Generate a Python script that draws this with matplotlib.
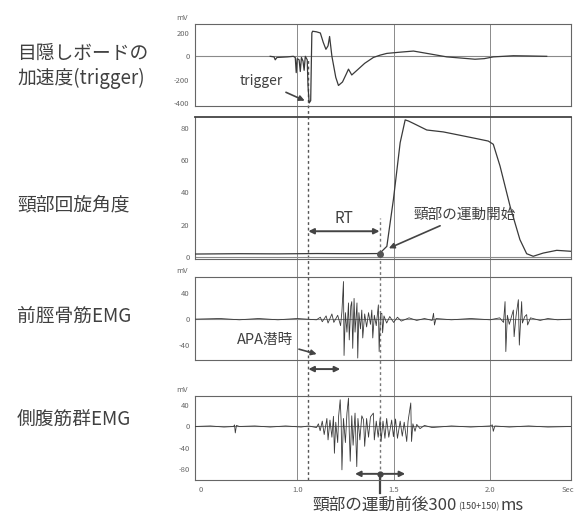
import matplotlib
matplotlib.use("Agg")
import matplotlib.pyplot as plt
from matplotlib.offsetbox import TextArea, HPacker, AnnotationBbox

plt.rcParams["font.family"] = ["Noto Sans CJK JP", "DejaVu Sans"]

# --- data (time in s) ---
trigger_t = 1.058
onset_t = 1.427

acc_t = [0.86, 0.88, 0.886, 0.895, 0.95, 0.98, 0.99, 0.995, 1.0, 1.01, 1.016, 1.022, 1.03, 1.036,
         1.042, 1.052, 1.056, 1.062, 1.07, 1.076, 1.08, 1.10, 1.12, 1.135, 1.149, 1.16, 1.168, 1.18,
         1.20, 1.214, 1.235, 1.255, 1.266, 1.283, 1.31, 1.35, 1.395, 1.43, 1.465, 1.53, 1.603, 1.69,
         1.776, 1.85, 1.922, 1.97, 2.017, 2.07, 2.121, 2.2, 2.294]
acc_v = [0, -5, -30, -10, -5, 0, -10, -140, -20, -30, -130, -10, -40, -120, 0, -30, -250, -400, -380,
         200, 215, 210, 200, 120, 60, 90, 170, 0, -180, -250, -220, -150, -110, -160, -120, -60, -10,
         10, 25, 35, 45, 20, -5, -15, -25, -20, -5, 0, 5, 3, 0]

rot_t = [0.47, 0.7, 0.9, 1.1, 1.3, 1.427, 1.465, 1.499, 1.534, 1.560, 1.577, 1.603, 1.672, 1.758,
         1.845, 1.931, 1.991, 2.017, 2.052, 2.104, 2.155, 2.19, 2.224, 2.276, 2.346, 2.42]
rot_v = [1.6, 1.8, 1.7, 1.9, 1.8, 1.9, 6.4, 35.6, 71, 85.2, 84.5, 83, 78.9, 77.7, 75.6, 73.5, 72,
         70, 56.4, 31.4, 10.6, 1.8, 0.2, 2.2, 3.9, 3.3]

ta_t = [0.47, 0.60, 0.70, 0.80, 0.90, 1.00, 1.10, 1.12, 1.13, 1.15, 1.16, 1.18, 1.19, 1.21, 1.225,
        1.232, 1.24, 1.243, 1.25, 1.258, 1.266, 1.27, 1.278, 1.283, 1.288, 1.295, 1.30, 1.31, 1.314,
        1.32, 1.328, 1.335, 1.34, 1.35, 1.36, 1.37, 1.38, 1.387, 1.392, 1.40, 1.41, 1.421, 1.425,
        1.432, 1.439, 1.443, 1.45, 1.464, 1.48, 1.50, 1.52, 1.54, 1.58, 1.62, 1.66, 1.70, 1.707,
        1.712, 1.72, 1.8, 1.9, 2.0, 2.05, 2.07, 2.078, 2.082, 2.09, 2.10, 2.121, 2.125, 2.135,
        2.147, 2.152, 2.164, 2.168, 2.18, 2.19, 2.195, 2.21, 2.26, 2.30, 2.35, 2.42]
ta_v = [0, 1, -1, 1, -1, 1, -1, 3, -4, 5, -6, 8, -5, 6, -10, 12, 58, -56, 10, -20, 25, -32, 20, 27,
        -45, 32, -20, 25, -60, 10, -15, 14, -29, 8, -12, 10, -8, 14, -29, 6, -10, 22, -50, 8, 9, -21,
        5, -6, 4, -5, 3, -3, 2, -2, 1, -2, 9, -9, 1, -1, 1, -1, 2, -5, 27, -50, 6, -8, 14, -27, 5, 30,
        -40, 27, -6, 4, 7, -9, 2, -2, 1, -1, 0]

ob_t = [0.47, 0.55, 0.62, 0.67, 0.675, 0.679, 0.685, 0.70, 0.78, 0.86, 0.94, 1.02, 1.06, 1.10, 1.11,
        1.119, 1.13, 1.14, 1.154, 1.16, 1.17, 1.18, 1.188, 1.193, 1.20, 1.21, 1.215, 1.223, 1.228,
        1.232, 1.24, 1.25, 1.258, 1.266, 1.27, 1.275, 1.283, 1.29, 1.30, 1.309, 1.315, 1.325, 1.335,
        1.344, 1.35, 1.36, 1.37, 1.38, 1.395, 1.40, 1.41, 1.42, 1.43, 1.435, 1.445, 1.455, 1.464,
        1.475, 1.49, 1.499, 1.51, 1.52, 1.534, 1.545, 1.555, 1.568, 1.575, 1.589, 1.593, 1.60, 1.611,
        1.62, 1.637, 1.66, 1.70, 1.80, 1.90, 2.00, 2.012, 2.017, 2.025, 2.10, 2.2, 2.3, 2.42]
ob_v = [0, 1, -1, 0, 3, -12, 2, 0, 1, -1, 1, -1, 1, -2, 5, -8, 10, -15, 15, -25, 12, -20, 19, -50, 8,
        -30, 20, 50, 10, -81, 15, -30, 25, 53, -10, -65, 20, -35, 25, -75, 15, -25, 20, 12.5, -37, 15,
        -20, 18, 25, -25, 10, -20, 15, -28, 10, -22, 15, -20, 12, -19, 14, -22, 10, -18, 8, -28, 10,
        44, -28, 5, -9, 4, -4, 2, -2, 1, -1, 1, 3, -9, 1, -1, 1, -1, 0]

row_labels = ["目隠しボードの\n加速度(trigger)", "頸部回旋角度", "前脛骨筋EMG", "側腹筋群EMG"]
ylims = [(-426, 277), (-1.5, 87), (-63, 65), (-100, 57)]
yticks = [[200, 0, -200, -400], [80, 60, 40, 20, 0], [40, 0, -40], [40, 0, -40, -80]]
ytick_text = [["200", "0", "-200", "-400"], ["80", "60", "40", "20", "0"], ["40", "0", "-40"],
              ["40", "0", "-40", "-80"]]
xticks = [0.5, 1.0, 1.5, 2.0, 2.405]
xtick_text = ["0", "1.0", "1.5", "2.0", "Sec"]
grid_t = [1.0, 1.5, 2.0]
xlim = (0.47, 2.42)

# --- layout (pixel boxes top/bottom of each panel) ---
W, H = 579, 514
left_px, right_px = 195, 571
boxes = [(24, 106), (117, 259), (277, 360), (396, 480)]
label_y = [66, 205, 316, 420]

fig = plt.figure(figsize=(W / 100, H / 100), dpi=100)
fig.patch.set_facecolor("white")

def frac_box(top, bottom):
    return [left_px / W, 1 - bottom / H, (right_px - left_px) / W, (bottom - top) / H]

grid_c = "#8a8a8a"
line_c = "#3a3a3a"
txt_c = "#404040"

# overlay for lines running through every panel
ov = fig.add_axes(frac_box(boxes[0][0], boxes[-1][1]))
ov.set_xlim(xlim)
ov.set_ylim(0, 1)
ov.axis("off")
span = boxes[-1][1] - boxes[0][0]
for g in grid_t:
    ov.axvline(g, color=grid_c, lw=0.7)
ov.axvline(trigger_t, ymin=0, ymax=(boxes[-1][1] - 59) / span, color="#555555", lw=1.0, ls=(0, (2, 2)))
ov.axvline(onset_t, ymin=0, ymax=(boxes[-1][1] - 218) / span, color="#777777", lw=1.0, ls=(0, (2, 2)))

series = [(acc_t, acc_v, 0.9), (rot_t, rot_v, 0.9), (ta_t, ta_v, 0.6), (ob_t, ob_v, 0.6)]
axes = []
for i, (top, bottom) in enumerate(boxes):
    ax = fig.add_axes(frac_box(top, bottom))
    ax.set_facecolor("none")
    ax.set_xlim(xlim)
    ax.set_ylim(ylims[i])
    ax.axhline(0, color=grid_c, lw=0.8, zorder=1)
    t, v, lw = series[i]
    ax.plot(t, v, color=line_c, lw=lw, zorder=3)
    ax.set_yticks(yticks[i])
    ax.set_yticklabels(ytick_text[i])
    ax.tick_params(axis="y", length=0, labelsize=5.5, labelcolor="#666666", pad=4)
    for s in ax.spines.values():
        s.set_color("#666666")
        s.set_linewidth(0.8)
    if i == 3:
        ax.set_xticks(xticks)
        ax.set_xticklabels(xtick_text)
        ax.tick_params(axis="x", length=0, labelsize=5.5, labelcolor="#666666", pad=4)
    else:
        ax.set_xticks([])
    if i != 1:
        ax.text(-0.02, 1.02, "mV", transform=ax.transAxes, ha="right", va="bottom",
                fontsize=5.5, color="#666666")
    fig.text(17 / W, 1 - label_y[i] / H, row_labels[i], ha="left", va="center",
             fontsize=13.5, color=txt_c, linespacing=1.2)
    axes.append(ax)

ax1, ax2, ax3, ax4 = axes
ax2.spines["top"].set_color("#444444")
ax2.spines["top"].set_linewidth(1.3)

# annotations
arrow_kw = dict(arrowstyle="-|>", color="#444444", lw=1.2, mutation_scale=8)
ax1.annotate("trigger", xy=(1.052, -390), xytext=(0.815, -215), fontsize=10, color=txt_c,
             ha="center", va="center", arrowprops=arrow_kw)

dbl = dict(arrowstyle="<|-|>", color="#444444", lw=1.4, mutation_scale=8, shrinkA=0, shrinkB=0)
ax2.annotate("", xy=(trigger_t, 15.8), xytext=(onset_t, 15.8), arrowprops=dbl)
ax2.text(1.245, 24, "RT", fontsize=11, color=txt_c, ha="center", va="center")
ax2.plot([onset_t], [1.9], "o", color="#555555", ms=4, zorder=4)
ax2.annotate("頸部の運動開始", xy=(1.462, 4.5), xytext=(1.87, 26), fontsize=10.5, color=txt_c,
             ha="center", va="center", arrowprops=arrow_kw)

ax3.annotate("APA潜時", xy=(1.115, -55), xytext=(0.835, -32), fontsize=10.5, color=txt_c,
             ha="center", va="center", arrowprops=arrow_kw)
ax3.annotate("", xy=(trigger_t, -77), xytext=(1.223, -77), arrowprops=dbl, annotation_clip=False)

ax4.annotate("", xy=(1.30, -88.5), xytext=(1.56, -88.5), arrowprops=dbl)
ax4.plot([onset_t], [-88.5], "o", color="#444444", ms=3.5, zorder=4)
ax4.plot([onset_t, onset_t], [-88.5, -124], color="#444444", lw=1.6, clip_on=False)

big = dict(fontsize=12, color=txt_c)
parts = HPacker(children=[TextArea("頸部の運動前後300", textprops=big),
                          TextArea("(150+150)", textprops=dict(fontsize=6.5, color=txt_c)),
                          TextArea("ms", textprops=big)],
                align="baseline", pad=0, sep=1)
ab = AnnotationBbox(parts, (418 / W, 1 - 505 / H), xycoords="figure fraction", frameon=False,
                    box_alignment=(0.5, 0.5), annotation_clip=False)
fig.add_artist(ab)

fig.savefig("out.png", dpi=100)
plt.close(fig)
